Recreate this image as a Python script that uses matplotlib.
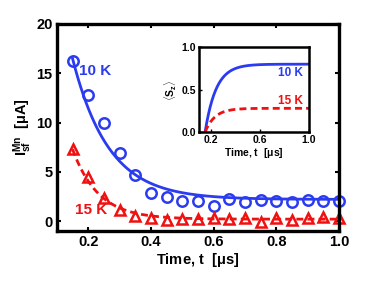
import numpy as np
import matplotlib
matplotlib.use("Agg")
import matplotlib.pyplot as plt

plt.rcParams['font.family'] = ['Liberation Sans', 'DejaVu Sans']
plt.rcParams['mathtext.fontset'] = 'custom'
plt.rcParams['mathtext.rm'] = 'Liberation Sans:bold'
plt.rcParams['mathtext.it'] = 'Liberation Sans:bold'
plt.rcParams['mathtext.bf'] = 'Liberation Sans:bold'

# Measured data
t_data = [0.15, 0.20, 0.25, 0.30, 0.35, 0.40, 0.45, 0.50, 0.55, 0.60,
          0.65, 0.70, 0.75, 0.80, 0.85, 0.90, 0.95, 1.00]
i10K = [16.2, 12.8, 10.0, 6.9, 4.7, 2.9, 2.4, 2.0, 2.0, 1.5,
        2.2, 1.9, 2.1, 2.0, 1.9, 2.1, 2.0, 2.0]
i15K = [7.3, 4.5, 2.3, 1.1, 0.5, 0.3, 0.1, 0.2, 0.2, 0.3,
        0.2, 0.3, -0.1, 0.3, 0.1, 0.3, 0.4, 0.3]

# Fit parameters (exponential decay) for main panel
fit10_amp, fit10_tau, fit10_off = 14.3, 0.115, 2.2
fit15_amp, fit15_tau, fit15_off = 7.1, 0.082, 0.2
# Inset saturation curves
sz10_sat, sz10_tau = 0.80, 0.09
sz15_sat, sz15_tau = 0.28, 0.08
t0 = 0.15

blue = '#2b3cf0'
red = '#f01010'

fig = plt.figure(figsize=(3.74, 2.81), dpi=100)
ax = fig.add_axes([0.152, 0.178, 0.754, 0.737])

tt = np.linspace(t0, 1.0, 300)
ax.plot(tt, fit10_off + fit10_amp * np.exp(-(tt - t0) / fit10_tau), color=blue, lw=2.0)
ax.plot(tt, fit15_off + fit15_amp * np.exp(-(tt - t0) / fit15_tau), color=red, lw=2.0,
        ls=(0, (2.5, 1.5)))
ax.plot(t_data, i10K, 'o', mfc='none', mec=blue, mew=1.8, ms=7.5, clip_on=False)
ax.plot(t_data, i15K, '^', mfc='none', mec=red, mew=1.8, ms=7.5, clip_on=False)

ax.set_xlim(0.1, 1.0)
ax.set_ylim(-1, 20)
ax.set_xticks([0.2, 0.4, 0.6, 0.8, 1.0])
ax.set_xticklabels(['0.2', '0.4', '0.6', '0.8', '1.0'])
ax.set_yticks([0, 5, 10, 15, 20])
ax.tick_params(direction='in', top=True, right=True, length=3, width=1.5,
               labelsize=10.5, pad=3)
for lab in ax.get_xticklabels() + ax.get_yticklabels():
    lab.set_fontweight('bold')
for s in ax.spines.values():
    s.set_linewidth(2.4)
ax.set_xlabel(r'Time, t  [$\mathrm{\mu}$s]', fontsize=10.5, fontweight='bold', labelpad=1)
ax.set_ylabel(r'$\mathbf{I_{sf}^{Mn}}$  [$\mathrm{\mu}$A]', fontsize=10.5, fontweight='bold', labelpad=2)

ax.text(0.172, 15.2, '10 K', color=blue, fontsize=11, fontweight='bold', va='center')
ax.text(0.158, 1.1, '15 K', color=red, fontsize=11, fontweight='bold', va='center')

# Inset
ins = fig.add_axes([0.532, 0.530, 0.294, 0.302])
ti = np.linspace(t0, 1.0, 300)
ins.plot(ti, sz10_sat * (1 - np.exp(-(ti - t0) / sz10_tau)), color=blue, lw=2.0)
ins.plot(ti, sz15_sat * (1 - np.exp(-(ti - t0) / sz15_tau)), color=red, lw=2.0,
         ls=(0, (2.5, 1.5)))
ins.set_xlim(0.1, 1.0)
ins.set_ylim(0, 1.0)
ins.set_xticks([0.2, 0.6, 1.0])
ins.set_xticklabels(['0.2', '0.6', '1.0'])
ins.set_yticks([0.0, 0.5, 1.0])
ins.set_yticklabels(['0.0', '0.5', '1.0'])
ins.tick_params(direction='in', length=2, width=1, labelsize=7.5, pad=2)
for lab in ins.get_xticklabels() + ins.get_yticklabels():
    lab.set_fontweight('bold')
for s in ins.spines.values():
    s.set_linewidth(1.8)
ins.set_xlabel(r'Time, t  [$\mathrm{\mu}$s]', fontsize=7.5, fontweight='bold', labelpad=1)
ins.set_ylabel(r'$\langle$S$_z\rangle$', fontsize=7.5, fontweight='bold', labelpad=2)
ins.text(0.95, 0.70, '10 K', color=blue, fontsize=8.5, fontweight='bold', ha='right', va='center')
ins.text(0.95, 0.37, '15 K', color=red, fontsize=8.5, fontweight='bold', ha='right', va='center')

fig.savefig('out.png', dpi=100)
